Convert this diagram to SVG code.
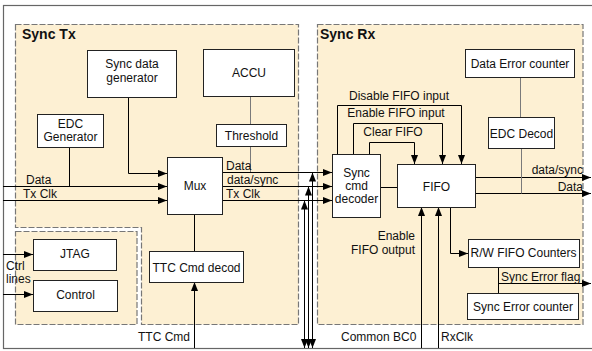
<svg xmlns="http://www.w3.org/2000/svg" width="592" height="351" viewBox="0 0 592 351">
<style>
.panel{fill:#fdf0d3;stroke:#777;stroke-width:1.2;stroke-dasharray:6,2}
.box{fill:#fff;stroke:#222;stroke-width:1}
.t{font-family:"Liberation Sans",Arial,sans-serif;font-size:12px;fill:#111}
.c{text-anchor:middle}
.r{text-anchor:end}
.title{font-family:"Liberation Sans",Arial,sans-serif;font-size:14px;font-weight:bold;fill:#111}
.w{fill:none;stroke:#000;stroke-width:1}
.g{fill:none;stroke:#7a7a7a;stroke-width:1}
.a{marker-end:url(#ah)}
.b{marker-start:url(#ah);marker-end:url(#ah)}
</style>
<defs>
<marker id="ah" viewBox="0 0 9 7" refX="9" refY="3.5" markerWidth="9" markerHeight="7" markerUnits="userSpaceOnUse" orient="auto-start-reverse">
<path d="M0,0 L9,3.5 L0,7 z" fill="#000"/>
</marker>
</defs>
<rect x="0" y="0" width="592" height="351" fill="#fff"/>
<g id="frame">
<rect x="3.5" y="5.5" width="610" height="343" fill="none" stroke="#666" stroke-width="1.2"/>
</g>
<g id="panels">
<path class="panel" d="M15.5,24.5 H298.5 V324.5 H141.5 V227.5 H15.5 Z"/>
<rect class="panel" x="15.5" y="231.5" width="121.5" height="93"/>
<rect class="panel" x="317.5" y="24.5" width="265.5" height="300"/>
<text class="title" x="22" y="39">Sync Tx</text>
<text class="title" x="320" y="39">Sync Rx</text>
</g>
<g id="connectors">
<path class="w a" d="M128.5,97 V173.5 H167"/>
<path class="w a" d="M3,186.5 H167"/>
<path class="w" d="M69.5,147 V186.5"/>
<path class="w a" d="M3,200.5 H167"/>
<path class="g" d="M250.5,96 V124"/>
<path class="g" d="M250.5,146 V172.5"/>
<path class="w a" d="M222,172.5 H332"/>
<path class="w a" d="M222,186.5 H332"/>
<path class="w a" d="M222,200.5 H332"/>
<path class="w b" d="M312.5,348 V172.5"/>
<path class="w b" d="M308.5,348 V186.5"/>
<path class="w b" d="M304.5,348 V200.5"/>
<path class="w" d="M194.5,214 V251"/>
<path class="w a" d="M194.5,348 V282"/>
<path class="w a" d="M3,254.5 H33"/>
<path class="w a" d="M3,294.5 H33"/>
<path class="w" d="M380,187.5 H397"/>
<path class="w a" d="M337.5,154 V105.5 H461.5 V164"/>
<path class="w a" d="M353.5,154 V123.5 H442.5 V164"/>
<path class="w a" d="M369.5,154 V142.5 H414.5 V164"/>
<path class="w a" d="M475,177.5 H591"/>
<path class="w a" d="M475,193.5 H591"/>
<path class="g" d="M520.5,77 V117"/>
<path class="g" d="M521.5,148 V193.5"/>
<path class="w a" d="M421.5,348 V207"/>
<path class="w a" d="M438.5,348 V207"/>
<path class="w a" d="M450.5,207 V253.5 H468"/>
<path class="w" d="M498.5,267 V293"/>
<path class="w a" d="M498.5,283.5 H591"/>
</g>
<g id="labels">
<text class="t" x="26" y="184">Data</text>
<text class="t" x="23" y="198">Tx Clk</text>
<text class="t" x="226" y="170">Data</text>
<text class="t" x="227" y="184">data/sync</text>
<text class="t" x="226" y="198">Tx Clk</text>
<text class="t" x="6" y="270">Ctrl</text>
<text class="t" x="6" y="283">lines</text>
<text class="t" x="138" y="341">TTC Cmd</text>
<text class="t c" x="399" y="100">Disable FIFO input</text>
<text class="t c" x="396" y="117">Enable FIFO input</text>
<text class="t c" x="393" y="136">Clear FIFO</text>
<text class="t r" x="583" y="174">data/sync</text>
<text class="t r" x="583" y="191">Data</text>
<text class="t r" x="415" y="240">Enable</text>
<text class="t r" x="415" y="254">FIFO output</text>
<text class="t" x="501" y="281">Sync Error flag</text>
<text class="t" x="341" y="341">Common BC0</text>
<text class="t" x="441" y="341">RxClk</text>
</g>
<g id="sync-data-gen">
<rect class="box" x="87.5" y="50.5" width="89" height="47"/>
<text class="t c" x="132" y="68">Sync data</text>
<text class="t c" x="132" y="82">generator</text>
</g>
<g id="accu">
<rect class="box" x="203.5" y="49.5" width="91" height="47"/>
<text class="t c" x="249" y="77">ACCU</text>
</g>
<g id="edc-gen">
<rect class="box" x="37.5" y="114.5" width="66" height="33"/>
<text class="t c" x="70.5" y="128">EDC</text>
<text class="t c" x="70.5" y="141">Generator</text>
</g>
<g id="threshold">
<rect class="box" x="216.5" y="124.5" width="70" height="22"/>
<text class="t c" x="251.5" y="140">Threshold</text>
</g>
<g id="mux">
<rect class="box" x="167.5" y="157.5" width="55" height="57"/>
<text class="t c" x="195" y="190">Mux</text>
</g>
<g id="jtag">
<rect class="box" x="33.5" y="239.5" width="83" height="31"/>
<text class="t c" x="75" y="258">JTAG</text>
</g>
<g id="control">
<rect class="box" x="33.5" y="280.5" width="84" height="31"/>
<text class="t c" x="75.5" y="299">Control</text>
</g>
<g id="ttc-decod">
<rect class="box" x="149.5" y="251.5" width="94" height="31"/>
<text class="t c" x="196.5" y="272">TTC Cmd decod</text>
</g>
<g id="sync-cmd-decoder">
<rect class="box" x="332.5" y="154.5" width="48" height="63"/>
<text class="t c" x="356.5" y="177">Sync</text>
<text class="t c" x="356.5" y="190">cmd</text>
<text class="t c" x="356.5" y="203">decoder</text>
</g>
<g id="fifo">
<rect class="box" x="397.5" y="164.5" width="78" height="43"/>
<text class="t c" x="436.5" y="191">FIFO</text>
</g>
<g id="data-error-counter">
<rect class="box" x="465.5" y="49.5" width="109" height="28"/>
<text class="t c" x="520" y="68">Data Error counter</text>
</g>
<g id="edc-decod">
<rect class="box" x="488.5" y="117.5" width="66" height="31"/>
<text class="t c" x="521.5" y="138">EDC Decod</text>
</g>
<g id="rw-fifo-counters">
<rect class="box" x="468.5" y="239.5" width="111" height="28"/>
<text class="t c" x="523.5" y="257">R/W FIFO Counters</text>
</g>
<g id="sync-error-counter">
<rect class="box" x="467.5" y="293.5" width="111" height="26"/>
<text class="t c" x="523" y="311">Sync Error counter</text>
</g>
</svg>
